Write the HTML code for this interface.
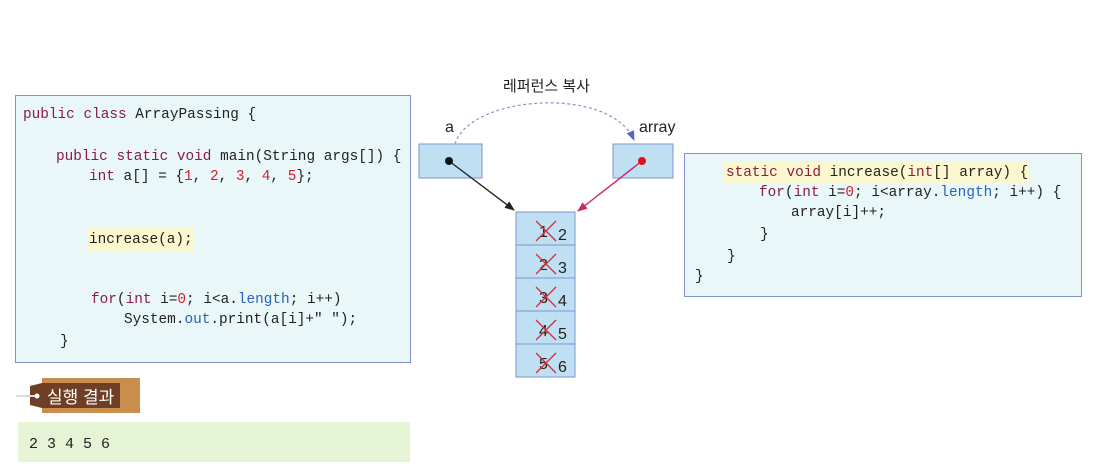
<!DOCTYPE html>
<html><head><meta charset="utf-8"><style>
body{margin:0;width:1102px;height:473px;background:#fff;position:relative;overflow:hidden;font-family:"Liberation Sans","Noto Sans CJK KR",sans-serif}
.box{position:absolute;background:#e9f7f9;border:1.5px solid #8593c4;box-sizing:border-box}
.c{position:absolute;font-family:"Liberation Mono",monospace;font-size:14.4px;color:#222;white-space:pre;line-height:18px}
.k{color:#8a1c45}.n{color:#d3202c}.b{color:#2a62b5}
.lbl{position:absolute;font-size:15px;color:#222}
</style></head><body>
<div class="box" style="left:15px;top:95px;width:396px;height:268px"></div>
<div class="c" style="left:23px;top:106px"><span class="k">public class</span> ArrayPassing {</div>
<div class="c" style="left:56px;top:148px"><span class="k">public static void</span> main(String args[]) {</div>
<div class="c" style="left:89px;top:168px"><span class="k">int</span> a[] = {<span class="n">1</span>, <span class="n">2</span>, <span class="n">3</span>, <span class="n">4</span>, <span class="n">5</span>};</div>
<div style="position:absolute;left:87px;top:228px;width:106px;height:24px;background:#fbf8cf"></div>
<div class="c" style="left:89px;top:231px">increase(a);</div>
<div class="c" style="left:91px;top:291px"><span class="k">for</span>(<span class="k">int</span> i=<span class="n">0</span>; i&lt;a.<span class="b">length</span>; i++)</div>
<div class="c" style="left:124px;top:311px">System.<span class="b">out</span>.print(a[i]+" ");</div>
<div class="c" style="left:60px;top:333px">}</div>

<div class="box" style="left:684px;top:153px;width:398px;height:144px"></div>
<div style="position:absolute;left:724px;top:162px;width:305px;height:22px;background:#fbf8cf"></div>
<div class="c" style="left:726px;top:164px"><span class="k">static void</span> increase(<span class="k">int</span>[] array) {</div>
<div class="c" style="left:759px;top:184px"><span class="k">for</span>(<span class="k">int</span> i=<span class="n">0</span>; i&lt;array.<span class="b">length</span>; i++) {</div>
<div class="c" style="left:791px;top:204px">array[i]++;</div>
<div class="c" style="left:760px;top:226px">}</div>
<div class="c" style="left:727px;top:248px">}</div>
<div class="c" style="left:695px;top:268px">}</div>

<div class="lbl" style="left:503px;top:75px;font-size:15px">레퍼런스 복사</div>
<div class="lbl" style="left:445px;top:119px;font-size:16px">a</div>
<div class="lbl" style="left:639px;top:119px;font-size:16px">array</div>

<svg width="1102" height="473" style="position:absolute;left:0;top:0">
<defs>
<marker id="m1" markerWidth="10" markerHeight="10" refX="9" refY="5" orient="auto" markerUnits="userSpaceOnUse"><path d="M0,1 L10,5 L0,9 Z" fill="#222"/></marker>
<marker id="m2" markerWidth="10" markerHeight="10" refX="9" refY="5" orient="auto" markerUnits="userSpaceOnUse"><path d="M0,1 L10,5 L0,9 Z" fill="#c8286a"/></marker>
<marker id="m3" markerWidth="10" markerHeight="10" refX="9" refY="5" orient="auto" markerUnits="userSpaceOnUse"><path d="M0,1 L10,5 L0,9 Z" fill="#5566bb"/></marker>
</defs>
<path d="M455,144 C470,95 610,85 634,140" fill="none" stroke="#8a93c8" stroke-width="1.2" stroke-dasharray="3,2.5" marker-end="url(#m3)"/>
<rect x="419" y="144" width="63" height="34" fill="#bfe0f3" stroke="#7f93c8"/>
<rect x="613" y="144" width="60" height="34" fill="#bfe0f3" stroke="#7f93c8"/>
<line x1="449" y1="161" x2="514" y2="210" stroke="#222" stroke-width="1.4" marker-end="url(#m1)"/>
<line x1="642" y1="161" x2="578" y2="211" stroke="#c8286a" stroke-width="1.4" marker-end="url(#m2)"/>
<circle cx="449" cy="161" r="4" fill="#111"/>
<circle cx="642" cy="161" r="4" fill="#e0101a"/>
<g fill="#bfe0f3" stroke="#7f93c8">
<rect x="516" y="212" width="59" height="33"/><rect x="516" y="245" width="59" height="33"/>
<rect x="516" y="278" width="59" height="33"/><rect x="516" y="311" width="59" height="33"/>
<rect x="516" y="344" width="59" height="33"/>
</g>
<g font-family="Liberation Sans,sans-serif" font-size="16" fill="#222">
<text x="539" y="237">1</text><text x="558" y="240">2</text>
<text x="539" y="270">2</text><text x="558" y="273">3</text>
<text x="539" y="303">3</text><text x="558" y="306">4</text>
<text x="539" y="336">4</text><text x="558" y="339">5</text>
<text x="539" y="369">5</text><text x="558" y="372">6</text>
</g>
<g stroke="#d0303a" stroke-width="1.3">
<path d="M536,221 L556,241 M556,221 L536,241"/>
<path d="M536,254 L556,274 M556,254 L536,274"/>
<path d="M536,287 L556,307 M556,287 L536,307"/>
<path d="M536,320 L556,340 M556,320 L536,340"/>
<path d="M536,353 L556,373 M556,353 L536,373"/>
</g>
<rect x="42" y="378" width="98" height="35" fill="#c98d4e"/>
<path d="M30,386 L42,383 L120,383 L120,408 L42,408 L30,405 Z" fill="#6e3f24"/>
<line x1="16" y1="396" x2="36" y2="396" stroke="#ddd" stroke-width="2"/>
<circle cx="37" cy="396" r="2.5" fill="#fff"/>
<text x="47" y="403" font-family="Liberation Sans,Noto Sans CJK KR,sans-serif" font-size="17" fill="#fff">실행 결과</text>
<rect x="18" y="422" width="392" height="40" fill="#e6f4d6"/>
<text x="29" y="448" font-family="Liberation Mono,monospace" font-size="15" fill="#222">2 3 4 5 6</text>
</svg>
</body></html>
